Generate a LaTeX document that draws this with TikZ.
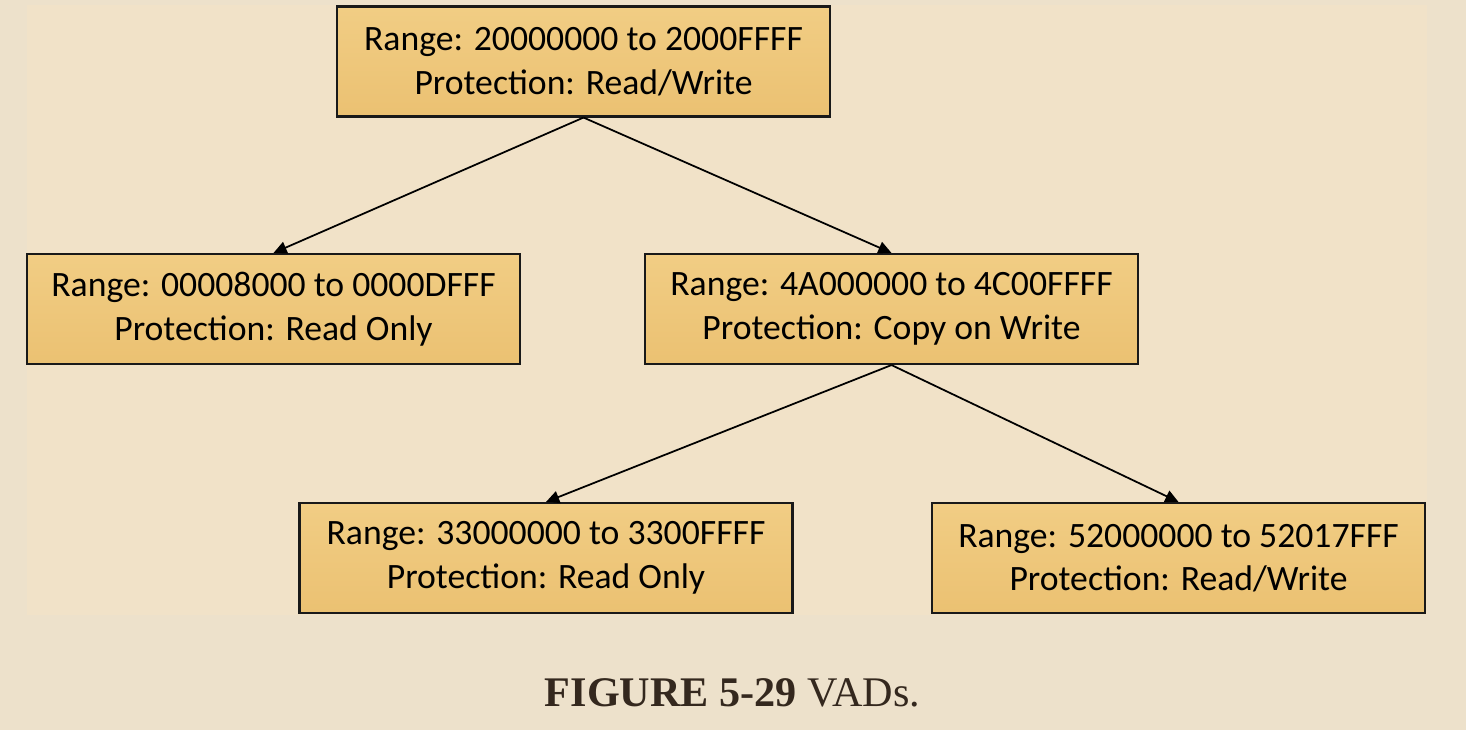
\documentclass[tikz,border=0pt]{standalone}
\usepackage{fontspec}
\setmainfont{Liberation Serif}
\newfontfamily\boxfont{Carlito}
\usetikzlibrary{arrows.meta}
\definecolor{pagebg}{RGB}{237,225,203}
\definecolor{figbg}{RGB}{241,226,200}
\definecolor{vadtop}{RGB}{241,205,132}
\definecolor{vadbot}{RGB}{235,193,114}
\definecolor{captxt}{RGB}{52,40,30}
\begin{document}
\begin{tikzpicture}[
  vad/.style={draw=black!90,line width=1.2pt,top color=vadtop,bottom color=vadbot,
    minimum width=9.86cm,minimum height=2.2cm,inner sep=0pt,align=center,
    font=\boxfont\fontsize{20.3}{24.8}\selectfont},
  link/.style={line width=1pt,-{Triangle[length=7.5pt,width=7pt]}}]
  % page and figure area
  \useasboundingbox[fill=pagebg](0,0) rectangle (29.32,14.6);
  \fill[figbg](0.54,2.3) rectangle (28.54,14.5);
  % the tree of VADs
  \node[vad] (root) at (11.67,13.37) {Range: 20000000 to 2000FFFF\\Protection: Read/Write};
  \node[vad] (low) at (5.47,8.42) {Range: 00008000 to 0000DFFF\\Protection: Read Only};
  \node[vad] (high) at (17.83,8.42) {Range: 4A000000 to 4C00FFFF\\Protection: Copy on Write};
  \node[vad] (highlow) at (10.92,3.44) {Range: 33000000 to 3300FFFF\\Protection: Read Only};
  \node[vad] (highhigh) at (23.57,3.44) {Range: 52000000 to 52017FFF\\Protection: Read/Write};
  \draw[link](root.south)--(low.north);
  \draw[link](root.south)--(high.north);
  \draw[link](high.south)--(highlow.north);
  \draw[link](high.south)--(highhigh.north);
  % caption
  \node[anchor=base,text=captxt,font=\fontsize{24}{28}\selectfont] (caption) at (14.65,0.48)
    {\textbf{FIGURE 5-29} VADs.};
\end{tikzpicture}
\end{document}
